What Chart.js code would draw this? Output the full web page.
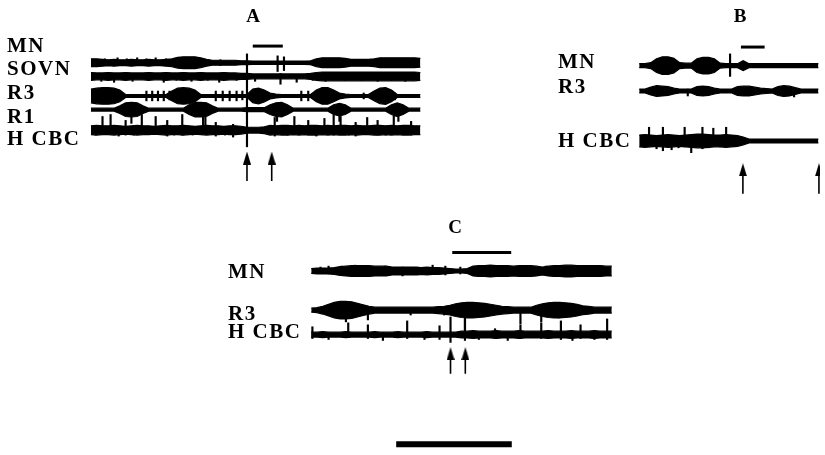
<!DOCTYPE html>
<html>
<head>
<meta charset="utf-8">
<script src="https://cdn.jsdelivr.net/npm/chart.js@4.4.0/dist/chart.umd.min.js"></script>
<style>
  html, body { margin: 0; padding: 0; background: #fff; }
  #wrap { width: 825px; height: 455px; }
</style>
</head>
<body>
<div id="wrap"><canvas id="fig" width="825" height="455"></canvas></div>
<script>
// sample step of the envelopes, seconds
const DT = 0.5;

// ---- panel A : half-amplitude envelopes (one value per 0.5 s)
const A_MN   = [4,4,3.5, 3,3.5,3,3,3.5,3,3,3.5,3,3,3.5, 4,5.5,6,6,6,5, 3.5, 2.5,2.5,2.5,2.5,2.5,2,2,
                1.7,1.7,1.7,1.7,1.7,1.7,1.7,1.7,1.7,1.7,2, 4,5,5,5,5,4.5, 3.5,3.5,3.5,3.5,4, 5,5,5,5,5,5,5,4.5];
const A_SOVN = [4,3.5,3.5,4,3.5,3.5,4,3.5,3.5,3.5,4,3.5,3.5,4,3.5,3.5,4,3.5,3.5,4,3.5,3.5,3.5,4,3.5,3.5,3,3,
                2.5,2.5,2.5,2.5,2.5,2.5,2.5,2.5,2.5,2.5,3,
                4,4.5,4.5,4.5,4.5,4.5,4.5,4.5,4.5,4.5,4.5,4.5,4.5,4.5,4.5,4.5,4.5,4.5,4];
const A_R3   = [7,8,8.5,8.5,8,6, 1.5,1.5,1.5,1.5,1.5,1.5,1.5,1.5, 5,8,8.5,8,6, 1.5,1.5,1.5,1.5,1.5,1.5,1.5,1.5,1.5,
                7,8,6, 3,2,1.5,1.5,1.5,1.5,1.5,1.5, 6,8.5,8.5,6, 3,2,1.5,1.5,1.5,1.5, 5,8,8.5,6, 1.5,1.5,1.5,1.5,1.5];
const A_R1   = [1.5,1.5,1.5,1.5,1.5, 4,7,7.5,7,4, 1.5,1.5,1.5,1.5,1.5,1.5,1.5, 5,7.5,7.5,7,4,
                1.5,1.5,1.5,1.5,1.5,2,2,2,2, 5,7,7.5,5, 1.5,1.5,1.5,1.5,1.5,1.5,1.5, 5,6.5,5,
                1.5,1.5,1.5,1.5,1.5,1.5,1.5, 5,7,5, 1.5,1.5,1.5];
const A_HCBC = [4.5,5,4.5,4.5,5,4.5,4,4.5,5,4.5,4.5,4,4.5,5,4.5,4.5,5,4.5,4,4.5,5,4.5,4.5,4,4.5,4.5,4,
                3,3,3,3.5,
                5,4.5,5,5,4.5,5,4.5,5,5,4.5,5,4.5,5,5,4.5,5,4.5,4.5,5,5,4.5,5,4.5,5,5,4.5,4.5];

// spikes: [time s, height above, depth below]
const A_MN_SPK   = [[0.5,3,3],[1.2,4,2],[2.3,5,2],[3.1,4,3],[4.0,5,2],[4.8,4,3],[5.6,5,2],[6.5,4,2],[7.9,3,4],
                    [9.9,3,3],[11.2,3,3],[13.5,9,86],[16.15,7,9],[16.7,6,8],[19.5,3,2],[21.3,2,3],[22.5,3,3],
                    [23.8,3,2],[25.3,3,2],[27.3,4,2]];
const A_SOVN_SPK = [[0.9,2,5],[2.0,2,6],[3.6,2,5],[5.0,2,4],[6.3,2,6],[7.4,3,4],[8.7,2,5],[10.1,2,4],[11.1,2,6],
                    [12.6,2,4],[14.2,2,5],[16.4,3,8],[17.8,2,6],[19.2,2,4],[20.3,2,5],[22.0,2,4],[23.4,2,4],
                    [24.8,2,5],[26.0,2,4],[27.2,2,5]];
const A_R3_SPK   = [[4.8,5,5],[5.3,5,5],[5.8,5,5],[6.3,5,5],[6.8,5,4],[10.8,5,5],[11.4,5,5],[12.0,5,5],
                    [12.6,5,5],[13.1,5,4],[18.2,5,5],[18.8,5,5],[23.6,3,3],[26.3,3,4]];
const A_R1_SPK   = [[3.5,2,14],[9.9,2,16],[16.1,2,12],[21.5,2,12],[26.6,2,12]];
const A_HCBC_SPK = [[0.4,4,5],[1.0,14,3],[1.7,16,4],[2.4,4,6],[3.0,10,5],[3.7,3,5],[4.4,16,3],[5.6,14,4],
                    [6.6,10,6],[7.2,3,5],[7.9,16,5],[8.8,4,5],[9.7,15,4],[10.8,8,6],[11.6,3,5],[12.3,6,7],
                    [15.9,13,6],[17.0,4,5],[17.6,14,4],[18.8,10,5],[19.5,3,6],[20.2,12,3],[21.0,16,5],
                    [21.6,14,4],[22.3,3,5],[22.9,8,6],[23.9,13,4],[24.8,10,5],[25.5,3,5],[26.2,15,4],[27.7,9,5]];

// ---- panel B
const B_MN   = [2,2,3, 7,9,9,7.5, 3,2.5,2.5, 7,8.5,8.5,7, 2.5,2,2,2, 5, 2,2,2,2,2,2,2,2,2,2,2,2,2];
const B_R3   = [2,2,4,5.5,5,4.5,3, 2,2,2, 4.5,5,4.5,3, 2,2,2, 4.5,5,5,4, 3,2.5,2, 4.5,5.5,5,3.5, 2,2,2,2];
const B_HCBC = [6,6.5,6,5.5,6,6.5,6,5.5,6,6.5,7,7,6.5,6,6,6.5,6,5.5,4, 2,2,2,2,2,2,2,2,2,2,2,2,2];
const B_MN_SPK   = [[7.86,12,11]];
const B_R3_SPK   = [[4.2,2,5],[13.4,2,6]];
const B_HCBC_SPK = [[0.85,14,3],[1.5,3,8],[2.05,14,10],[2.8,3,9],[3.4,3,7],[3.93,14,6],[4.5,3,12],[5.47,14,8],
                    [6.0,3,7],[6.41,13,5],[7.0,3,6],[7.52,14,4]];

// ---- panel C
const C_MN   = [2.5,3,3,3,3.5, 4.5,5,5.5,5.5,5.5,5.5,5,5,5, 4,4,4,4,4,3.5,4,3.5,3.5, 3,2.5,2,2,2.5,
                5,5.5,5.5,6,5.5,5.5,5.5,5,5.5,5.5,5.5,5, 4, 5,5.5,5.5,6,6,5.5,5.5,5.5,5.5,5.5,5,5];
const C_R3   = [2,2.5, 4,6,8,9,9,8.5,7,5.5,4, 3,3,3,3,3,3,3,3,3,3,3,3.5,4, 5,6.5,7.5,8,8,7.5,7,6,5,4,
                3.5,3,3,3,3, 5,6.5,7.5,8,8,7.5,7,6,4.5,4, 3,3,3,3];
const C_HCBC = [2.5,2.5,3,2.5,2.5,2.5,3,2.5,2.5,2.5,2.5,3,2.5,2.5,2.5,3,2.5,2.5,2.5,2.5,3,2.5,2.5,2.5,2.5,2.5,
                3.5,3.5,4,3.5,3.5,3.5,4,3.5,3.5,3.5,4,3.5,3.5,3.5,3.5,4,3.5,3.5,3.5,4,3.5,3.5,3.5,4,3.5,3.5,3.5];
const C_MN_SPK   = [[0.8,4,2],[1.5,5,3],[2.6,5,3],[3.8,6,4],[5.0,4,5],[6.4,5,4],[7.9,4,5],[9.2,4,4],[10.5,6,3],
                    [11.6,5,4],[12.9,4,3],[15.0,4,4],[16.8,5,4],[18.5,4,5],[20.3,5,4],[22.5,4,4],[24.2,4,3],[25.2,5,3]];
const C_R3_SPK   = [[3.0,2,12],[4.9,2,10],[8.6,2,5],[11.5,2,5],[13.3,2,20],[18.1,2,14],[19.9,2,12],[21.4,2,8]];
const C_HCBC_SPK = [[0.1,8,4],[1.5,2,5],[3.2,12,3],[4.9,10,4],[6.2,2,6],[8.3,14,4],[9.8,2,5],[11.1,9,5],
                    [12.05,18,8],[13.3,16,6],[14.5,2,5],[15.9,6,4],[17.0,2,6],[18.1,10,4],[19.9,12,4],
                    [21.6,14,5],[22.6,2,6],[23.3,10,4],[24.5,2,5],[25.6,16,5]];

// stimulus bars, arrows (s)
const A_STIM = [14.0, 16.6], B_STIM = [8.8, 10.85], C_STIM = [12.2, 17.3];
const A_ARROWS = [13.5, 15.64], B_ARROWS = [8.97, 15.55], C_ARROWS = [12.05, 13.33];
const SCALE_BAR = [7.35, 17.35]; // 10 s

// ---- layout (page pixels)
const W = 825, H = 455, PX_PER_S = 11.7;
const panels = {
  A: { left: 87,  title: [253, 17],  stimY: 42,  arrow: [150, 180],
       rows: { MN: 59, SOVN: 73, R3: 93, R1: 107, HCBC: 128 },
       labels: [['MN', 47], ['SOVN', 70], ['R3', 94], ['R1', 118], ['H CBC', 140]], labelX: 7 },
  B: { left: 642, title: [740, 17],  stimY: 43,  arrow: [162, 193],
       rows: { MN: 62, R3: 88, HCBC: 139 },
       labels: [['MN', 63], ['R3', 88], ['H CBC', 142]], labelX: 558 },
  C: { left: 310, title: [455, 228], stimY: 253, arrow: [350, 377],
       rows: { MN: 272, R3: 312, HCBC: 337 },
       labels: [['MN', 273], ['R3', 315], ['H CBC', 333]], labelX: 228 }
};

const datasets = [];
const axis = p => 'x' + p;

function envelope(p, base, amp) {
  const t = amp.map((_, i) => i * DT);
  datasets.push({ type: 'line', xAxisID: axis(p), data: amp.map((a, i) => ({ x: t[i], y: base - a })),
    borderColor: '#000', borderWidth: 1.2, pointRadius: 0, fill: false });
  datasets.push({ type: 'line', xAxisID: axis(p), data: amp.map((a, i) => ({ x: t[i], y: base + a })),
    borderColor: '#000', borderWidth: 1.2, pointRadius: 0, fill: '-1', backgroundColor: '#000' });
}
function spikes(p, base, spk) {
  datasets.push({ type: 'bar', xAxisID: axis(p), grouped: false, barThickness: 1.5,
    data: spk.map(s => ({ x: s[0], y: [base - s[1], base + s[2]] })), backgroundColor: '#000', borderWidth: 0 });
}
function hbar(p, range, y, w) {
  datasets.push({ type: 'line', xAxisID: axis(p), data: [{ x: range[0], y }, { x: range[1], y }],
    borderColor: '#000', borderWidth: w, borderCapStyle: 'butt', pointRadius: 0, fill: false });
}

// arrow head image
const head = document.createElement('canvas');
head.width = 8; head.height = 13;
(ctx => { ctx.fillStyle = '#000'; ctx.beginPath(); ctx.moveTo(4, 0); ctx.lineTo(8, 13); ctx.lineTo(0, 13); ctx.closePath(); ctx.fill(); })(head.getContext('2d'));

function arrows(p, ts, ys) {
  ts.forEach(t => {
    datasets.push({ type: 'line', xAxisID: axis(p), data: [{ x: t, y: ys[0] + 8 }, { x: t, y: ys[1] }],
      borderColor: '#000', borderWidth: 1.6, pointRadius: 0, fill: false });
    datasets.push({ type: 'line', xAxisID: axis(p), showLine: false, data: [{ x: t, y: ys[0] + 6.5 }],
      pointStyle: head, pointRadius: 4 });
  });
}

const A = panels.A, B = panels.B, C = panels.C;
envelope('A', A.rows.MN, A_MN);     spikes('A', A.rows.MN, A_MN_SPK);
envelope('A', A.rows.SOVN, A_SOVN); spikes('A', A.rows.SOVN, A_SOVN_SPK);
envelope('A', A.rows.R3, A_R3);     spikes('A', A.rows.R3, A_R3_SPK);
envelope('A', A.rows.R1, A_R1);     spikes('A', A.rows.R1, A_R1_SPK);
envelope('A', A.rows.HCBC, A_HCBC); spikes('A', A.rows.HCBC, A_HCBC_SPK);
envelope('B', B.rows.MN, B_MN);     spikes('B', B.rows.MN, B_MN_SPK);
envelope('B', B.rows.R3, B_R3);     spikes('B', B.rows.R3, B_R3_SPK);
envelope('B', B.rows.HCBC, B_HCBC); spikes('B', B.rows.HCBC, B_HCBC_SPK);
envelope('C', C.rows.MN, C_MN);     spikes('C', C.rows.MN, C_MN_SPK);
envelope('C', C.rows.R3, C_R3);     spikes('C', C.rows.R3, C_R3_SPK);
envelope('C', C.rows.HCBC, C_HCBC); spikes('C', C.rows.HCBC, C_HCBC_SPK);
hbar('A', A_STIM, A.stimY, 3);
hbar('B', B_STIM, B.stimY, 3);
hbar('C', C_STIM, C.stimY, 3);
hbar('C', SCALE_BAR, 449, 6);
arrows('A', A_ARROWS, A.arrow);
arrows('B', B_ARROWS, B.arrow);
arrows('C', C_ARROWS, C.arrow);

const scales = { y: { type: 'linear', min: 0, max: H, reverse: true, display: false } };
Object.keys(panels).forEach(p => {
  const L = panels[p].left;
  scales[axis(p)] = { type: 'linear', min: -L / PX_PER_S, max: (W - L) / PX_PER_S, display: false, offset: false };
});

// titles and channel names
const textPlugin = {
  id: 'texts',
  afterDraw(chart) {
    const ctx = chart.ctx;
    ctx.save();
    ctx.fillStyle = '#000';
    ctx.textBaseline = 'middle';
    ctx.font = 'bold 19px "Liberation Serif"';
    ctx.textAlign = 'center';
    Object.keys(panels).forEach(p => ctx.fillText(p, panels[p].title[0], panels[p].title[1]));
    ctx.font = 'bold 21px "Liberation Serif"';
    ctx.textAlign = 'left';
    ctx.letterSpacing = '1.5px';
    Object.values(panels).forEach(pn => pn.labels.forEach(l => ctx.fillText(l[0], pn.labelX, l[1])));
    ctx.restore();
  }
};

new Chart(document.getElementById('fig'), {
  type: 'line',
  data: { datasets },
  options: {
    responsive: false,
    animation: false,
    devicePixelRatio: 1,
    layout: { padding: 0 },
    plugins: { legend: { display: false }, tooltip: { enabled: false } },
    scales
  },
  plugins: [textPlugin]
});
</script>
</body>
</html>
